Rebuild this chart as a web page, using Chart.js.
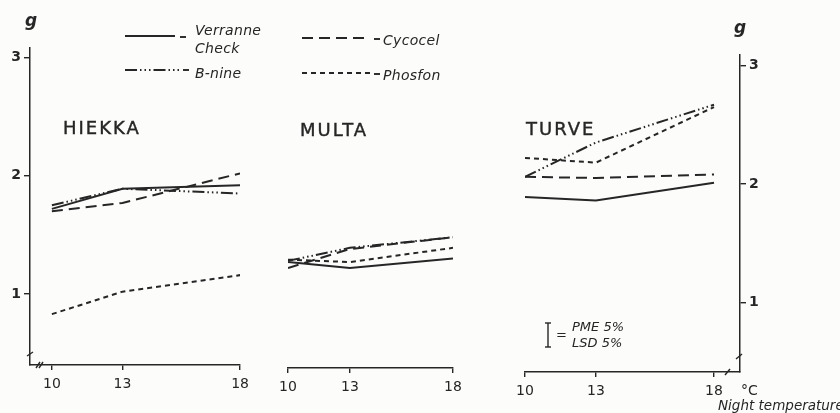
<!DOCTYPE html>
<html>
<head>
<meta charset="utf-8">
<script src="https://cdn.jsdelivr.net/npm/chart.js@4.4.1/dist/chart.umd.min.js"></script>
<style>
  body { margin: 0; width: 840px; height: 413px; overflow: hidden; position: relative; background: #fcfcfb; font-family: "DejaVu Sans", sans-serif; color: #262626; }
  canvas { position: absolute; top: 0; }
  .t { position: absolute; white-space: nowrap; line-height: 1; }
  .it { font-style: italic; }
  .panel { font-size: 18px; letter-spacing: 2px; -webkit-text-stroke: 0.4px #262626; }
  .leg { font-size: 14px; font-style: italic; letter-spacing: 0.3px; }
</style>
</head>
<body>
<canvas id="hiekka" width="255" height="413" style="left:0px"></canvas>
<canvas id="multa" width="200" height="413" style="left:270px"></canvas>
<canvas id="turve" width="290" height="413" style="left:505px"></canvas>

<svg width="840" height="413" style="position:absolute;left:0;top:0;pointer-events:none" stroke="#262626" stroke-width="1.9" fill="none">
  <line x1="125" y1="36" x2="175" y2="36"/>
  <line x1="180" y1="37" x2="186" y2="37"/>
  <line x1="125" y1="70" x2="180" y2="70" stroke-dasharray="12 3 1.5 3 1.5 3 1.5 3"/>
  <line x1="183" y1="70" x2="189" y2="70"/>
  <line x1="302" y1="38" x2="370" y2="38" stroke-dasharray="11 6"/>
  <line x1="374" y1="39" x2="380" y2="39"/>
  <line x1="302" y1="73" x2="370" y2="73" stroke-dasharray="5 4"/>
  <line x1="374" y1="74" x2="380" y2="74"/>
  <line x1="548" y1="323" x2="548" y2="347" stroke-width="1.4"/>
  <line x1="545" y1="323" x2="551" y2="323" stroke-width="1.4"/>
  <line x1="545" y1="347" x2="551" y2="347" stroke-width="1.4"/>
  <!-- axis break marks -->
  <line x1="36" y1="368" x2="40" y2="362" stroke-width="1.4"/>
  <line x1="39" y1="368" x2="43" y2="362" stroke-width="1.4"/>
  <line x1="27" y1="356" x2="33" y2="352" stroke-width="1.4"/>
  <line x1="725" y1="375" x2="730" y2="369" stroke-width="1.4"/>
  <line x1="736" y1="359" x2="742" y2="354" stroke-width="1.4"/>
</svg>

<div class="t it" style="left:25px;top:12px;font-size:17px;font-weight:bold">g</div>
<div class="t it" style="left:734px;top:19px;font-size:17px;font-weight:bold">g</div>

<div class="t leg" style="left:195px;top:23px">Verranne</div>
<div class="t leg" style="left:195px;top:41px">Check</div>
<div class="t leg" style="left:195px;top:66px">B-nine</div>
<div class="t leg" style="left:383px;top:33px">Cycocel</div>
<div class="t leg" style="left:383px;top:68px">Phosfon</div>

<div class="t panel" style="left:63px;top:119px">HIEKKA</div>
<div class="t panel" style="left:300px;top:121px">MULTA</div>
<div class="t panel" style="left:526px;top:120px">TURVE</div>

<div class="t" style="left:556px;top:328px;font-size:13px">=</div>
<div class="t it" style="left:572px;top:320px;font-size:13px">PME 5%</div>
<div class="t it" style="left:572px;top:336px;font-size:13px">LSD 5%</div>

<div class="t" style="left:741px;top:383px;font-size:14px">°C</div>
<div class="t it" style="left:718px;top:399px;font-size:13.5px">Night temperature</div>

<script>
// night temperatures on the x axes, and the ticks shown on both scales
const temps = [10, 13, 18];
const xTicks = [10, 13, 18];
const yTicks = [1, 2, 3];

// dry weight, g
const hiekkaCheck   = [1.72, 1.89, 1.92];
const hiekkaCycocel = [1.70, 1.77, 2.02];
const hiekkaBnine   = [1.75, 1.89, 1.85];
const hiekkaPhosfon = [0.83, 1.02, 1.16];

const multaCheck   = [1.27, 1.22, 1.30];
const multaCycocel = [1.22, 1.38, 1.48];
const multaBnine   = [1.28, 1.39, 1.48];
const multaPhosfon = [1.29, 1.27, 1.39];

const turveCheck   = [1.89, 1.86, 2.01];
const turveCycocel = [2.06, 2.05, 2.08];
const turveBnine   = [2.06, 2.35, 2.67];
const turvePhosfon = [2.22, 2.18, 2.65];

const ink = '#262626';

function series(arr, dash) {
  return {
    data: temps.map((t, i) => ({ x: t, y: arr[i] })),
    borderColor: ink,
    borderWidth: 2,
    borderDash: dash,
    pointRadius: 0,
    tension: 0,
    fill: false
  };
}

function lines(check, cycocel, bnine, phosfon) {
  return [
    series(check, []),
    series(cycocel, [11, 6]),
    series(bnine, [12, 3, 1.5, 3, 1.5, 3, 1.5, 3]),
    series(phosfon, [5, 4])
  ];
}

function xAxis(min, max, h) {
  return {
    type: 'linear', min: min, max: max,
    afterBuildTicks: s => { s.ticks = xTicks.map(v => ({ value: v })); },
    afterFit: s => { s.height = h; },
    grid: { drawOnChartArea: false, drawTicks: true, tickLength: 5, color: ink, lineWidth: 1.4 },
    border: { display: true, color: ink, width: 1.5 },
    ticks: { color: ink, font: { family: 'DejaVu Sans', size: 14 }, padding: 6, maxRotation: 0, autoSkip: false }
  };
}

function yAxis(min, max, pos) {
  return {
    type: 'linear', min: min, max: max, position: pos,
    afterBuildTicks: s => { s.ticks = yTicks.map(v => ({ value: v })); },
    afterFit: s => { s.width = 30; },
    grid: { drawOnChartArea: false, drawTicks: true, tickLength: 6, color: ink, lineWidth: 1.4 },
    border: { display: true, color: ink, width: 1.5 },
    ticks: { color: ink, font: { family: 'DejaVu Sans', size: 14, weight: 'bold' }, padding: 3 }
  };
}

function panel(id, datasets, scales, padding) {
  new Chart(document.getElementById(id), {
    type: 'line',
    data: { datasets: datasets },
    options: {
      responsive: false,
      animation: false,
      layout: { padding: padding },
      scales: scales,
      plugins: { legend: { display: false }, tooltip: { enabled: false } }
    }
  });
}

panel('hiekka', lines(hiekkaCheck, hiekkaCycocel, hiekkaBnine, hiekkaPhosfon),
  { x: xAxis(9.07, 18, 48), y: yAxis(0.4, 3.08, 'left') },
  { left: 0, top: 48, right: 14, bottom: 0 });

panel('multa', lines(multaCheck, multaCycocel, multaBnine, multaPhosfon),
  { x: xAxis(10, 18, 45), y: { type: 'linear', min: 0.374, max: 3.08, display: false } },
  { left: 18, top: 48, right: 17, bottom: 0 });

panel('turve', lines(turveCheck, turveCycocel, turveBnine, turvePhosfon),
  { x: xAxis(10, 19.1, 41), y: yAxis(0.41, 3.09, 'right') },
  { left: 20, top: 55, right: 25, bottom: 0 });
</script>
</body>
</html>
